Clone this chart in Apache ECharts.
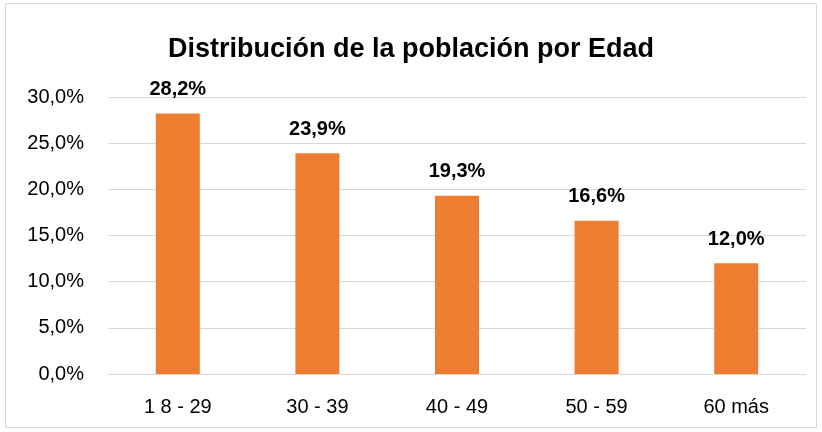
<!DOCTYPE html>
<html>
<head>
<meta charset="utf-8">
<script src="https://cdn.jsdelivr.net/npm/echarts@6/dist/echarts.min.js"></script>
<style>
  html, body { margin: 0; padding: 0; background: #fff; }
  #chart { width: 822px; height: 432px; }
</style>
</head>
<body>
<div id="chart"></div>
<script>
// age groups and share of population (%)
const categories = ['1 8 - 29', '30 - 39', '40 - 49', '50 - 59', '60 más'];
const shares = [28.2, 23.9, 19.3, 16.6, 12.0];

const FONT = '"Liberation Sans", sans-serif';
const fmt = v => v.toFixed(1).replace('.', ',') + '%';

const chart = echarts.init(document.getElementById('chart'));
chart.setOption({
    animation: false,
    title: {
        text: 'Distribución de la población por Edad',
        left: 'center', top: 31,
        textStyle: { fontFamily: FONT, fontSize: 27, fontWeight: 'bold', color: '#000' }
    },
    graphic: [{
        type: 'rect', shape: { x: 5.5, y: 3.5, width: 811, height: 424 },
        style: { fill: 'none', stroke: '#d9d9d9', lineWidth: 1 }
    }],
    grid: { left: 108, right: 16, top: 97, bottom: 58 },
    xAxis: {
        type: 'category', data: categories,
        axisLine: { lineStyle: { color: '#d9d9d9', width: 1 } },
        axisTick: { show: false },
        axisLabel: { fontFamily: FONT, fontSize: 20, color: '#000', margin: 23 }
    },
    yAxis: {
        type: 'value', min: 0, max: 30, interval: 5,
        axisLine: { show: false }, axisTick: { show: false },
        splitLine: { lineStyle: { color: '#d9d9d9', width: 1 } },
        axisLabel: { fontFamily: FONT, fontSize: 20, color: '#000', margin: 24, formatter: fmt }
    },
    series: [{
        type: 'bar', data: shares, barWidth: 44,
        itemStyle: { color: '#ed7d31' },
        label: {
            show: true, position: 'top', distance: 14,
            fontFamily: FONT, fontSize: 20, fontWeight: 'bold', color: '#000',
            formatter: p => fmt(p.value)
        }
    }]
});
</script>
</body>
</html>
